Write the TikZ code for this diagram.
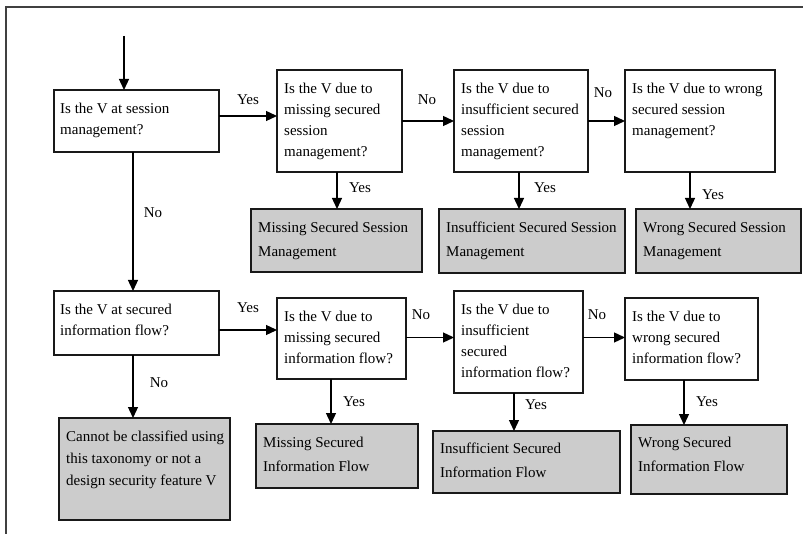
\documentclass[tikz,border=0pt]{standalone}
\usepackage{fontspec}
\setmainfont{Liberation Serif}
\usetikzlibrary{arrows.meta,calc}
\definecolor{boxgray}{HTML}{CCCCCC}
\definecolor{framegray}{HTML}{404040}
\tikzset{
  qbox/.style={draw=black!90, line width=1.3pt, fill=white, anchor=north west,
    inner sep=0pt, outer sep=0pt},
  rbox/.style={qbox, fill=boxgray},
  qtext/.style={anchor=north west, inner sep=0pt, align=left,
    font=\fontsize{15}{21}\selectfont},
  rtext/.style={qtext, font=\fontsize{15}{23.5}\selectfont},
  lbl/.style={inner sep=0pt, font=\fontsize{15}{18}\selectfont},
  flow/.style={line width=1.3pt, draw=black, -{Triangle[length=11pt,width=10pt]}}
}
\begin{document}
\begin{tikzpicture}[x=1pt,y=-1pt]
\useasboundingbox (0,0) rectangle (803,534);
% open frame round the chart
\draw[framegray, line width=2pt] (6,534) -- (6,7) -- (803,7);

% ---- row 1: session management ----
\node[qbox, minimum width=165pt, minimum height=62pt]  (a1) at (54,90)  {};
\node[qbox, minimum width=125pt, minimum height=102pt] (b1) at (277,70) {};
\node[qbox, minimum width=134pt, minimum height=102pt] (b2) at (454,70) {};
\node[qbox, minimum width=150pt, minimum height=102pt] (b3) at (625,70) {};
\node[rbox, minimum width=171pt, minimum height=63pt]  (c1) at (251,209) {};
\node[rbox, minimum width=186pt, minimum height=64pt]  (c2) at (439,209) {};
\node[rbox, minimum width=165pt, minimum height=64pt]  (c3) at (636,209) {};

\node[qtext] (a1t) at ([shift={(6pt,-13pt)}]a1.north west) {Is the V at session\\management?};
\node[qtext] (b1t) at ([shift={(7pt,-13pt)}]b1.north west) {Is the V due to\\missing secured\\session\\management?};
\node[qtext] (b2t) at ([shift={(7pt,-13pt)}]b2.north west) {Is the V due to\\insufficient secured\\session\\management?};
\node[qtext] (b3t) at ([shift={(7pt,-13pt)}]b3.north west) {Is the V due to wrong\\secured session\\management?};
\node[rtext] (c1t) at ([shift={(7pt,-13pt)}]c1.north west) {Missing Secured Session\\Management};
\node[rtext] (c2t) at ([shift={(7pt,-13pt)}]c2.north west) {Insufficient Secured Session\\Management};
\node[rtext] (c3t) at ([shift={(7pt,-13pt)}]c3.north west) {Wrong Secured Session\\Management};

% ---- row 2: information flow ----
\node[qbox, minimum width=165pt, minimum height=64pt]  (a2) at (54,291)  {};
\node[qbox, minimum width=129pt, minimum height=81pt]  (b4) at (277,298) {};
\node[qbox, minimum width=129pt, minimum height=102pt] (b5) at (454,291) {};
\node[qbox, minimum width=133pt, minimum height=82pt]  (b6) at (625,298) {};
\node[rbox, minimum width=171pt, minimum height=102pt] (d)  at (59,418)  {};
\node[rbox, minimum width=162pt, minimum height=64pt]  (c4) at (256,424) {};
\node[rbox, minimum width=187pt, minimum height=62pt]  (c5) at (433,431) {};
\node[rbox, minimum width=156pt, minimum height=69pt]  (c6) at (631,425) {};

\node[qtext] (a2t) at ([shift={(6pt,-13pt)}]a2.north west) {Is the V at secured\\information flow?};
\node[qtext] (b4t) at ([shift={(7pt,-13pt)}]b4.north west) {Is the V due to\\missing secured\\information flow?};
\node[qtext] (b5t) at ([shift={(7pt,-13pt)}]b5.north west) {Is the V due to\\insufficient\\secured\\information flow?};
\node[qtext] (b6t) at ([shift={(7pt,-13pt)}]b6.north west) {Is the V due to\\wrong secured\\information flow?};
\node[qtext, font=\fontsize{15}{21.7}\selectfont] (dt) at ([shift={(7pt,-13pt)}]d.north west) {Cannot be classified using\\this taxonomy or not a\\design security feature V};
\node[rtext] (c4t) at ([shift={(7pt,-13pt)}]c4.north west) {Missing Secured\\Information Flow};
\node[rtext] (c5t) at ([shift={(7pt,-12pt)}]c5.north west) {Insufficient Secured\\Information Flow};
\node[rtext] (c6t) at ([shift={(7pt,-12pt)}]c6.north west) {Wrong Secured\\Information Flow};

% ---- connectors ----
\coordinate (start) at (124,36);
\draw[flow] (start) -- (start |- a1.north);
\draw[flow] ([yshift=5pt]a1.east) -- ([yshift=5pt]a1.east -| b1.west);
\draw[flow] (b1.east) -- (b2.west);
\draw[flow] (b2.east) -- (b3.west);
\draw[flow] ([xshift=-2.5pt]b1.south) -- ([xshift=-2.5pt]b1.south |- c1.north);
\draw[flow] ([xshift=-2pt]b2.south) -- ([xshift=-2pt]b2.south |- c2.north);
\draw[flow] ([xshift=-10pt]b3.south) -- ([xshift=-10pt]b3.south |- c3.north);
\draw[flow] ([xshift=-3.5pt]a1.south) -- ([xshift=-3.5pt]a1.south |- a2.north);

\draw[flow] ([yshift=-7pt]a2.east) -- ([yshift=-7pt]a2.east -| b4.west);
\draw[flow] ([yshift=1pt]b4.east) -- ([yshift=1pt]b4.east -| b5.west);
\draw[flow] ([yshift=1pt]b4.east -| b5.east) -- ([yshift=1pt]b4.east -| b6.west);
\draw[flow] ([xshift=-3.5pt]a2.south) -- ([xshift=-3.5pt]a2.south |- d.north);
\draw[flow] ([xshift=-10.5pt]b4.south) -- ([xshift=-10.5pt]b4.south |- c4.north);
\draw[flow] ([xshift=-4.5pt]b5.south) -- ([xshift=-4.5pt]b5.south |- c5.north);
\draw[flow] ([xshift=-7.5pt]b6.south) -- ([xshift=-7.5pt]b6.south |- c6.north);

% ---- branch labels ----
\node[lbl] (y1) at (248,100) {Yes};
\node[lbl] (n1) at (427,100) {No};
\node[lbl] (n2) at (603,93)  {No};
\node[lbl] (y2) at (360,188) {Yes};
\node[lbl] (y3) at (545,188) {Yes};
\node[lbl] (y4) at (713,195) {Yes};
\node[lbl] (n3) at (153,213) {No};
\node[lbl] (y5) at (248,308) {Yes};
\node[lbl] (n4) at (421,315) {No};
\node[lbl] (n5) at (597,315) {No};
\node[lbl] (n6) at (159,383) {No};
\node[lbl] (y6) at (354,402) {Yes};
\node[lbl] (y7) at (536,405) {Yes};
\node[lbl] (y8) at (707,402) {Yes};
\end{tikzpicture}
\end{document}
